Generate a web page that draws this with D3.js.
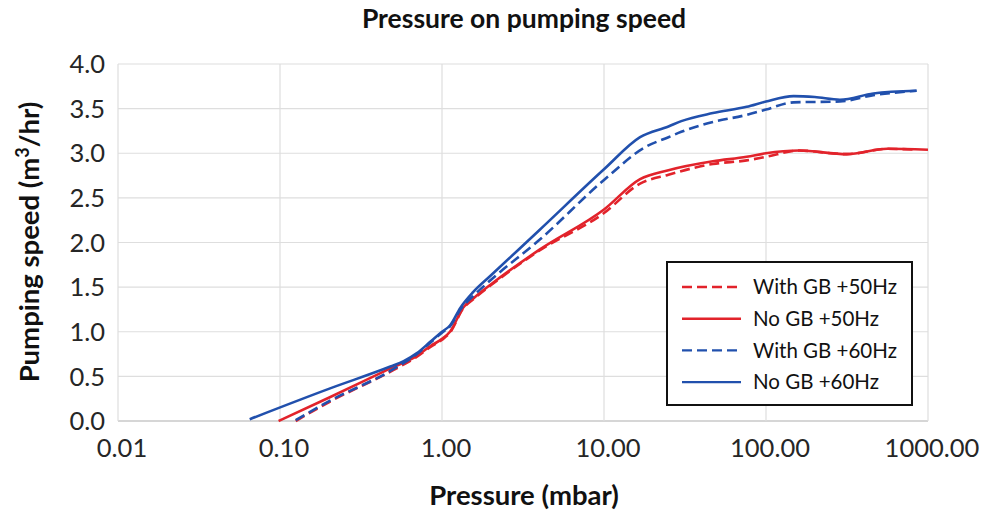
<!DOCTYPE html>
<html>
<head>
<meta charset="utf-8">
<script src="https://cdn.jsdelivr.net/npm/d3@7"></script>
<style>
  body { margin: 0; background: #fff; }
  svg { display: block; font-family: Lato, "Open Sans", sans-serif; }
</style>
</head>
<body>
<div id="chart"><svg></svg></div>
<script>
// [pressure (mbar), pumping speed (m3/hr)]
const withGB50 = [[0.125, 0.0], [0.2, 0.21], [0.5, 0.57], [0.7, 0.72], [0.85, 0.83], [1.0, 0.91], [1.12, 0.99], [1.35, 1.26], [1.6, 1.38], [2.0, 1.52], [4.0, 1.91], [10, 2.33], [16.7, 2.66], [25, 2.76], [47, 2.88], [76, 2.92], [100, 2.96], [160, 3.03], [315, 2.99], [560, 3.05], [850, 3.04]];
const noGB50 = [[0.098, 0.0], [0.2, 0.26], [0.48, 0.59], [0.7, 0.73], [0.85, 0.84], [1.0, 0.92], [1.12, 1.0], [1.35, 1.27], [1.6, 1.39], [2.0, 1.53], [4.0, 1.92], [10, 2.37], [16.7, 2.71], [25, 2.81], [47, 2.91], [76, 2.96], [100, 3.0], [160, 3.03], [315, 2.99], [560, 3.05], [1000, 3.04]];
const withGB60 = [[0.125, 0.01], [0.2, 0.22], [0.5, 0.58], [0.7, 0.75], [0.85, 0.88], [1.0, 0.99], [1.12, 1.06], [1.3, 1.25], [1.6, 1.42], [2.0, 1.58], [4.0, 2.03], [10, 2.70], [18, 3.07], [25, 3.18], [30, 3.24], [47, 3.35], [76, 3.43], [100, 3.49], [148, 3.57], [286, 3.58], [460, 3.65], [850, 3.70]];
const noGB60 = [[0.065, 0.02], [0.2, 0.36], [0.48, 0.61], [0.58, 0.67], [0.7, 0.76], [0.85, 0.89], [1.0, 1.0], [1.12, 1.07], [1.3, 1.27], [1.55, 1.44], [2.0, 1.63], [4.0, 2.14], [10, 2.82], [16.7, 3.18], [25, 3.30], [30, 3.36], [47, 3.45], [76, 3.52], [100, 3.58], [148, 3.64], [200, 3.63], [286, 3.60], [460, 3.67], [850, 3.70]];

const seriesNames = ['With GB +50Hz', 'No GB +50Hz', 'With GB +60Hz', 'No GB +60Hz'];
const xTicks = [0.01, 0.1, 1, 10, 100, 1000];
const yTicks = [0, 0.5, 1, 1.5, 2, 2.5, 3, 3.5, 4];

const width = 988;
const height = 514;
const margin = { top: 64, right: 60, bottom: 93, left: 118 };

const red = '#e2232b';
const blue = '#2150ad';
const series = [
  { name: seriesNames[0], data: withGB50, color: red, dash: '10,5' },
  { name: seriesNames[1], data: noGB50, color: red, dash: null },
  { name: seriesNames[2], data: withGB60, color: blue, dash: '10,5' },
  { name: seriesNames[3], data: noGB60, color: blue, dash: null }
];

const svg = d3.select('#chart > svg')
  .attr('width', width)
  .attr('height', height);

const x = d3.scaleLog()
  .domain([0.01, 1000])
  .range([margin.left, width - margin.right]);

const y = d3.scaleLinear()
  .domain([0, 4])
  .range([height - margin.bottom, margin.top]);

// gridlines
svg.append('g')
  .selectAll('line.h')
  .data(yTicks)
  .join('line')
  .attr('x1', x(0.01))
  .attr('x2', x(1000))
  .attr('y1', d => y(d))
  .attr('y2', d => y(d))
  .attr('stroke', d => d === 0 ? '#c8c8c8' : '#dedede')
  .attr('stroke-width', d => d === 0 ? 1.5 : 1.2);

svg.append('g')
  .selectAll('line.v')
  .data(xTicks)
  .join('line')
  .attr('x1', d => x(d))
  .attr('x2', d => x(d))
  .attr('y1', y(0))
  .attr('y2', y(4))
  .attr('stroke', '#dedede')
  .attr('stroke-width', 1.2);

// tick labels
svg.append('g')
  .selectAll('text')
  .data(yTicks)
  .join('text')
  .attr('x', 105)
  .attr('y', d => y(d))
  .attr('dy', '0.36em')
  .attr('text-anchor', 'end')
  .attr('font-size', 25.5)
  .attr('fill', '#262626')
  .text(d => d3.format('.1f')(d));

svg.append('g')
  .selectAll('text')
  .data(xTicks)
  .join('text')
  .attr('x', d => x(d) + 4)
  .attr('y', 457)
  .attr('text-anchor', 'middle')
  .attr('font-size', 25.5)
  .attr('fill', '#262626')
  .text(d => d3.format('.2f')(d));

// lines
const line = d3.line()
  .x(d => x(d[0]))
  .y(d => y(d[1]))
  .curve(d3.curveMonotoneX);

svg.append('g')
  .selectAll('path')
  .data(series)
  .join('path')
  .attr('d', d => line(d.data))
  .attr('fill', 'none')
  .attr('stroke', d => d.color)
  .attr('stroke-width', 2.6)
  .attr('stroke-dasharray', d => d.dash);

// titles
svg.append('text')
  .attr('x', 524)
  .attr('y', 28)
  .attr('text-anchor', 'middle')
  .attr('font-size', 26.5)
  .attr('font-weight', 'bold')
  .attr('fill', '#111')
  .text('Pressure on pumping speed');

svg.append('text')
  .attr('x', 524)
  .attr('y', 505)
  .attr('text-anchor', 'middle')
  .attr('font-size', 27.5)
  .attr('font-weight', 'bold')
  .attr('fill', '#111')
  .text('Pressure (mbar)');

const yTitle = svg.append('text')
  .attr('transform', 'translate(39,242) rotate(-90)')
  .attr('text-anchor', 'middle')
  .attr('font-size', 27.5)
  .attr('font-weight', 'bold')
  .attr('fill', '#111');
yTitle.append('tspan').text('Pumping speed (m');
yTitle.append('tspan').attr('font-size', 18).attr('dy', -10).text('3');
yTitle.append('tspan').attr('dy', 10).text('/hr)');

// legend
const legend = svg.append('g');

legend.append('rect')
  .attr('x', 667)
  .attr('y', 262)
  .attr('width', 245)
  .attr('height', 143)
  .attr('fill', '#fff')
  .attr('stroke', '#111')
  .attr('stroke-width', 2);

const legendRows = legend.selectAll('g.row')
  .data(series)
  .join('g')
  .attr('class', 'row')
  .attr('transform', (d, i) => `translate(0,${287 + i * 31.7})`);

legendRows.append('line')
  .attr('x1', 682)
  .attr('x2', 741)
  .attr('stroke', d => d.color)
  .attr('stroke-width', 2.4)
  .attr('stroke-dasharray', d => d.dash);

legendRows.append('text')
  .attr('x', 753)
  .attr('dy', '0.36em')
  .attr('font-size', 20.5)
  .attr('fill', '#111')
  .text(d => d.name);
</script>
</body>
</html>
